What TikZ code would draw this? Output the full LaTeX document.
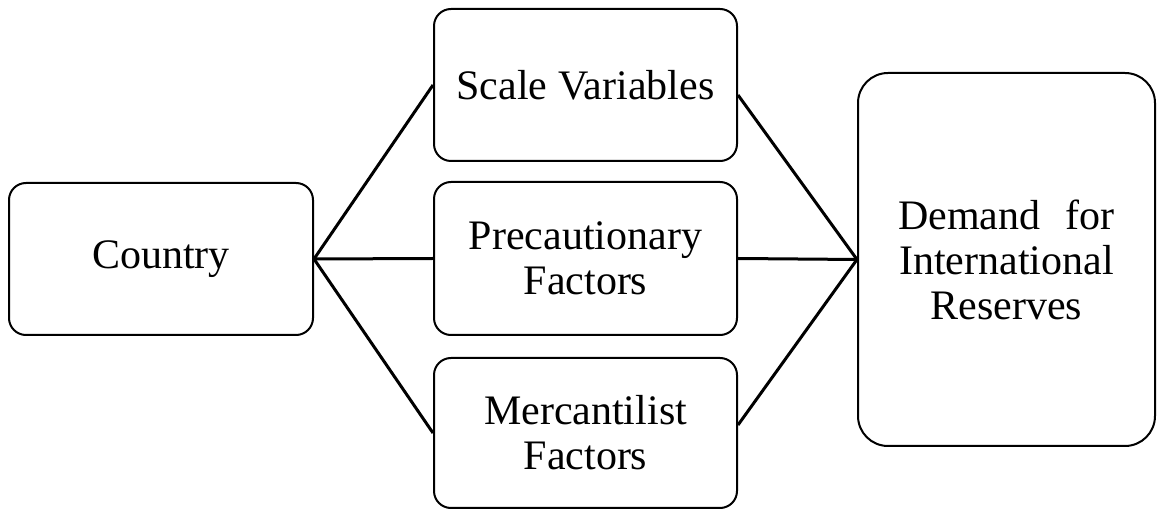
\documentclass[tikz,border=0pt]{standalone}
\usepackage{fontspec}
\setmainfont{Liberation Serif}
\begin{document}
\begin{tikzpicture}[x=1pt,y=-1pt,
  box/.style={draw=black, line width=2pt, rounded corners=17pt, align=center,
    inner sep=0pt, font=\fontsize{42}{45}\selectfont},
  conn/.style={draw=black, line width=3pt}]
\useasboundingbox (0,0) rectangle (1160,510);
\node[box, minimum width=304pt, minimum height=152pt] (c) at (161,259) {Country};
\node[box, minimum width=303pt, minimum height=152pt] (s) at (585.5,85) {Scale Variables};
\node[box, minimum width=303pt, minimum height=153pt] (p) at (585.5,258.5) {Precautionary\\Factors};
\node[box, minimum width=303pt, minimum height=150pt] (m) at (585.5,433) {Mercantilist\\Factors};
\node[box, rounded corners=30pt, minimum width=297pt, minimum height=373pt] (d) at (1006.5,259.5) {Demand\hspace{0.35em} for\\International\\Reserves};
\draw[conn] (c.east) -- (s.west);
\draw[conn] (c.east) -- (p.west);
\draw[conn] (c.east) -- (m.west);
\coordinate (sr) at ([yshift=-10pt]s.east);
\coordinate (mr) at ([yshift=8pt]m.east);
\draw[conn] (sr) -- (d.west);
\draw[conn] (p.east) -- (d.west);
\draw[conn] (mr) -- (d.west);
\end{tikzpicture}
\end{document}
